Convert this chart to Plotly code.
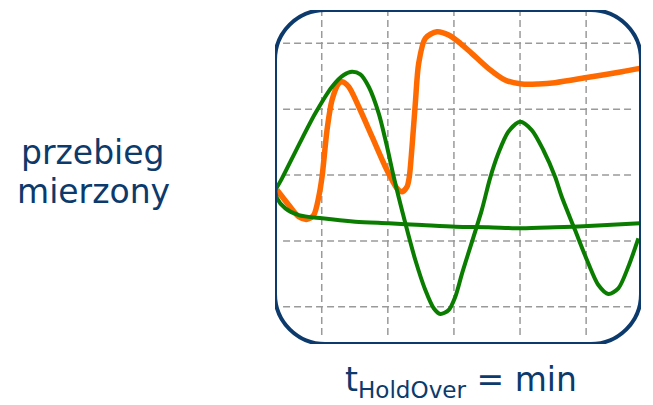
import plotly.graph_objects as go

# Measured response (orange)
orange_t = [0.324, 0.501, 0.652, 0.778, 0.879, 0.955, 1.005, 1.080, 1.156, 1.257, 1.307,
            1.408, 1.560, 1.761, 1.962, 2.038, 2.139, 2.215, 2.290, 2.325, 2.366, 2.416,
            2.467, 2.567, 2.744, 2.921, 3.097, 3.269, 3.520, 3.773, 4.026, 4.277, 4.530,
            5.033, 5.539, 5.815]
orange_v = [2.772, 2.544, 2.367, 2.327, 2.393, 2.670, 2.974, 3.683, 4.139, 4.393, 4.417,
            4.341, 4.037, 3.582, 3.126, 2.974, 2.798, 2.746, 2.822, 2.974, 3.430, 4.089,
            4.696, 5.076, 5.176, 5.126, 5.000, 4.848, 4.620, 4.443, 4.382, 4.382, 4.402,
            4.484, 4.569, 4.620]

# Oscillating response (green)
osc_t = [0.298, 0.399, 0.652, 0.903, 1.156, 1.333, 1.458, 1.584, 1.711, 1.862, 1.988,
         2.089, 2.265, 2.416, 2.567, 2.694, 2.794, 2.921, 3.021, 3.123,
         3.421, 3.546, 3.672, 3.823, 4.000, 4.177, 4.352, 4.530, 4.631, 4.832, 5.033,
         5.185, 5.336, 5.487, 5.638, 5.790]
osc_v = [2.772, 2.950, 3.455, 3.937, 4.341, 4.519, 4.569, 4.529, 4.341, 3.937, 3.430,
         2.974, 2.267, 1.709, 1.254, 0.976, 0.889, 0.950, 1.152, 1.507,
         2.467, 2.950, 3.330, 3.658, 3.809, 3.683, 3.380, 2.974, 2.670, 2.164, 1.659,
         1.330, 1.193, 1.279, 1.607, 2.039]

# Settling response (green, nearly flat)
flat_t = [0.298, 0.324, 0.449, 0.652, 1.005, 1.508, 2.014, 2.517, 3.021, 3.520, 4.026,
          4.530, 5.033, 5.815]
flat_v = [2.772, 2.646, 2.494, 2.392, 2.342, 2.291, 2.267, 2.241, 2.215, 2.206, 2.191,
          2.206, 2.225, 2.267]

grid_x = [1, 2, 3, 4, 5]
grid_y = [1, 2, 3, 4, 5]

X0, X1 = 0.293, 5.83
Y0, Y1 = 0.434, 5.506

NAVY = "#0c3a6c"
ORANGE = "#ff6a00"
GREEN = "#0a7d00"
FONT = "DejaVu Sans, sans-serif"

fig = go.Figure()

fig.add_trace(go.Scatter(x=orange_t, y=orange_v, mode="lines",
                         line=dict(color=ORANGE, width=5.5, shape="spline", smoothing=0.8),
                         hoverinfo="skip"))
fig.add_trace(go.Scatter(x=flat_t, y=flat_v, mode="lines",
                         line=dict(color=GREEN, width=4, shape="spline", smoothing=0.8),
                         hoverinfo="skip"))
fig.add_trace(go.Scatter(x=osc_t, y=osc_v, mode="lines",
                         line=dict(color=GREEN, width=4, shape="spline", smoothing=0.8),
                         hoverinfo="skip"))

shapes = []
for gx in grid_x:
    shapes.append(dict(type="line", xref="x", yref="y", x0=gx, x1=gx, y0=0.57, y1=Y1,
                       line=dict(color="#9a9a9a", width=1.5, dash="7px,4px"), layer="below"))
for gy in grid_y:
    shapes.append(dict(type="line", xref="x", yref="y", x0=0.415, x1=5.70, y0=gy, y1=gy,
                       line=dict(color="#9a9a9a", width=1.5, dash="7px,4px"), layer="below"))

# Rounded frame
r = 0.76
k = r * 0.5523
path = (f"M {X0 + r},{Y1} L {X1 - r},{Y1} "
        f"C {X1 - r + k},{Y1} {X1},{Y1 - r + k} {X1},{Y1 - r} "
        f"L {X1},{Y0 + r} "
        f"C {X1},{Y0 + r - k} {X1 - r + k},{Y0} {X1 - r},{Y0} "
        f"L {X0 + r},{Y0} "
        f"C {X0 + r - k},{Y0} {X0},{Y0 + r - k} {X0},{Y0 + r} "
        f"L {X0},{Y1 - r} "
        f"C {X0},{Y1 - r + k} {X0 + r - k},{Y1} {X0 + r},{Y1} Z")
shapes.append(dict(type="path", xref="x", yref="y", path=path,
                   line=dict(color=NAVY, width=4), layer="above"))

label_font = dict(family=FONT, size=33, color=NAVY)

fig.update_layout(
    width=653, height=405,
    margin=dict(l=0, r=0, t=0, b=0),
    paper_bgcolor="white", plot_bgcolor="rgba(0,0,0,0)",
    showlegend=False,
    shapes=shapes,
    xaxis=dict(range=[X0, X1], domain=[275 / 653, 641 / 653], visible=False, fixedrange=True),
    yaxis=dict(range=[Y0, Y1], domain=[61 / 405, 395 / 405], visible=False, fixedrange=True),
    annotations=[
        dict(text="przebieg", x=93 / 653, y=1 - 152 / 405, xref="paper", yref="paper",
             xanchor="center", yanchor="middle", showarrow=False, font=label_font),
        dict(text="mierzony", x=93 / 653, y=1 - 191 / 405, xref="paper", yref="paper",
             xanchor="center", yanchor="middle", showarrow=False, font=label_font),
        dict(text="t<sub>HoldOver</sub> = min", x=461 / 653, y=1 - 381 / 405,
             xref="paper", yref="paper", xanchor="center", yanchor="middle",
             showarrow=False, font=label_font),
    ],
)

fig.write_html("out.html")
